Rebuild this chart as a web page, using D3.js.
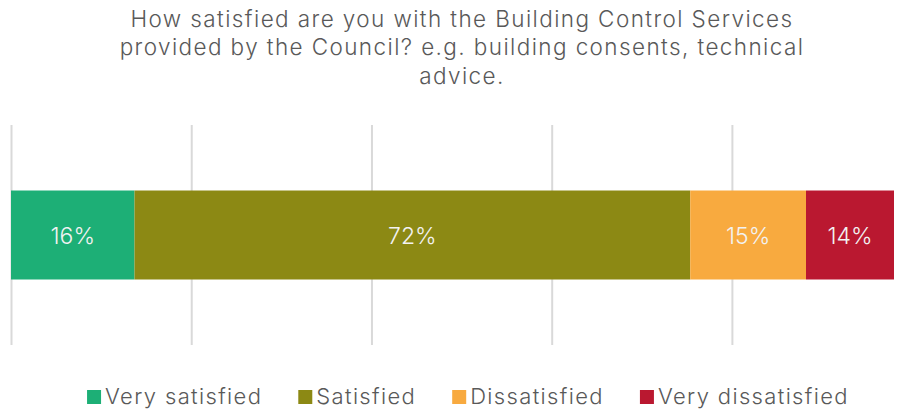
<!DOCTYPE html>
<html>
<head>
<meta charset="utf-8">
<script src="https://cdn.jsdelivr.net/npm/d3@7"></script>
<style>
  html, body { margin: 0; padding: 0; background: #ffffff; }
  svg { display: block; font-family: Inter, "Open Sans", sans-serif; }
</style>
</head>
<body>
<svg id="chart" width="905" height="412"></svg>
<script>
// Survey responses: share of respondents per satisfaction level
const categories = ["Building Control Services"];
const seriesNames = ["Very satisfied", "Satisfied", "Dissatisfied", "Very dissatisfied"];
const seriesValues = [16, 72, 15, 14];
const seriesColors = ["#1DAF76", "#8C8914", "#F8AA3F", "#BA1830"];
const titleLines = [
  "How satisfied are you with the Building Control Services",
  "provided by the Council? e.g. building consents, technical",
  "advice."
];
// value axis: fixed maximum and gridline spacing
const axisMax = 114.4;
const gridStep = 23.35;

const svg = d3.select("#chart");

const plot = { left: 11, right: 894, top: 125, bottom: 345 };

const x = d3.scaleLinear().domain([0, axisMax]).range([plot.left, plot.right]);
const y = d3.scaleBand().domain(categories).range([plot.top, plot.bottom])
  .paddingInner(0.424).paddingOuter(0.424);

// title, wrapped over three lines
svg.append("g")
  .selectAll("text")
  .data(titleLines)
  .join("text")
  .attr("x", 462)
  .attr("y", (d, i) => 26.5 + i * 28.6)
  .attr("text-anchor", "middle")
  .attr("font-size", 22.5)
  .attr("font-weight", 300)
  .attr("letter-spacing", 1.4)
  .attr("fill", "#595959")
  .text(d => d);

// vertical gridlines
const gridTicks = d3.range(0, axisMax, gridStep);
svg.append("g")
  .attr("transform", `translate(0,${plot.bottom})`)
  .call(d3.axisBottom(x).tickValues(gridTicks).tickSize(-(plot.bottom - plot.top)).tickFormat(""))
  .call(g => g.select(".domain").remove())
  .call(g => g.selectAll(".tick line").attr("stroke", "#D9D9D9").attr("stroke-width", 2));

// stacked segments, clipped at the axis maximum
svg.append("defs").append("clipPath").attr("id", "plotClip")
  .append("rect")
  .attr("x", plot.left).attr("y", plot.top)
  .attr("width", plot.right - plot.left).attr("height", plot.bottom - plot.top);

const stackRow = {};
seriesNames.forEach((n, i) => stackRow[n] = seriesValues[i]);
const stacked = d3.stack().keys(seriesNames)([stackRow]);

const segs = stacked.map((s, i) => ({
  name: s.key,
  value: seriesValues[i],
  x0: s[0][0],
  x1: s[0][1],
  color: seriesColors[i]
}));

svg.append("g").attr("clip-path", "url(#plotClip)")
  .selectAll("rect")
  .data(segs)
  .join("rect")
  .attr("x", d => x(d.x0))
  .attr("y", y(categories[0]))
  .attr("width", d => x(d.x1) - x(d.x0))
  .attr("height", y.bandwidth())
  .attr("fill", d => d.color);

// value labels centred in the visible part of each segment
svg.append("g")
  .selectAll("text")
  .data(segs)
  .join("text")
  .attr("x", d => (x(d.x0) + Math.min(x(d.x1), plot.right)) / 2)
  .attr("y", y(categories[0]) + y.bandwidth() / 2 + 8.5)
  .attr("text-anchor", "middle")
  .attr("font-size", 23)
  .attr("font-weight", 300)
  .attr("fill", "#F2F2F2")
  .text(d => d.value + "%");

// legend
const legend = svg.append("g");
const legendBase = 404;
const items = legend.selectAll("g")
  .data(segs)
  .join("g");
items.append("rect")
  .attr("width", 14).attr("height", 14)
  .attr("y", legendBase - 14)
  .attr("fill", d => d.color);
items.append("text")
  .attr("x", 18)
  .attr("y", legendBase)
  .attr("font-size", 22)
  .attr("font-weight", 300)
  .attr("letter-spacing", 1.35)
  .attr("fill", "#595959")
  .text(d => d.name);

// lay legend entries out in a centred row
let cursor = 0;
const gap = 36;
items.each(function () {
  const w = this.getBBox().width;
  d3.select(this).attr("data-w", w);
});
items.attr("transform", function () {
  const w = +d3.select(this).attr("data-w");
  const t = `translate(${cursor},0)`;
  cursor += w + gap;
  return t;
});
const totalW = cursor - gap;
legend.attr("transform", `translate(${468 - totalW / 2},0)`);
</script>
</body>
</html>
